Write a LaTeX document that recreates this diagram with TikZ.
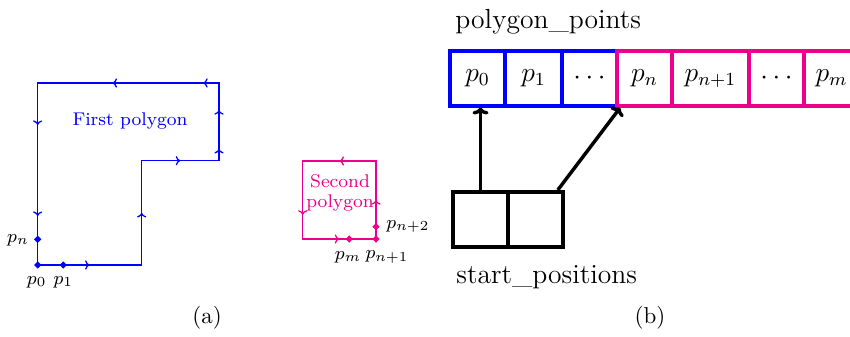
\documentclass[tikz,border=0pt]{standalone}
\usetikzlibrary{arrows.meta,decorations.markings,calc}
\definecolor{polyblue}{RGB}{0,0,255}
\definecolor{polypink}{RGB}{236,0,140}
\begin{document}
\begin{tikzpicture}[x=0.4348pt,y=-0.4348pt,
  edge/.style={line width=0.55pt},
  midarrow/.style={postaction={decorate,decoration={markings,
      mark=at position #1 with {\arrow{To[length=2pt,width=4pt]}}}}},
  bdot/.style={circle,inner sep=0pt,minimum size=1.5pt,fill=black,draw=polyblue,line width=1.2pt},
  pdot/.style={circle,inner sep=0pt,minimum size=1.5pt,fill=black,draw=polypink,line width=1.2pt},
  lbl/.style={font=\footnotesize,inner sep=0pt},
  cell/.style={draw,line width=1.6pt,minimum height=23.91pt,inner sep=0pt,font=\large},
  bcell/.style={cell,draw=polyblue},
  pcell/.style={cell,draw=polypink},
  scell/.style={cell,draw=black,minimum width=23.91pt},
  ptr/.style={line width=1.5pt,-{To[length=3pt,width=7pt]}},
  caption/.style={anchor=base,inner sep=0pt}]
\useasboundingbox (0,0) rectangle (850,336);
\clip (0,0) rectangle (850,336);

% ---------- (a) first polygon ----------
\coordinate (A) at (37.7,265);
\coordinate (B) at (141.7,265);
\coordinate (C) at (141.7,160.7);
\coordinate (D) at (219,160.7);
\coordinate (E) at (219,137);
\coordinate (F) at (219,83);
\coordinate (G) at (187,83);
\coordinate (H) at (37.7,83);
\coordinate (I) at (37.7,167);
\draw[polyblue,edge] (A) -- (B) -- (C) -- (D) -- (F) -- (H) -- cycle;
\foreach \u/\v in {A/B,B/C,C/D,D/E,E/F,F/G,G/H,H/I,I/A}
  \path[polyblue,edge,midarrow=0.5] (\u) -- (\v);
\node[polyblue,font=\footnotesize] (fp) at (130,121) {First polygon};
\node[bdot] (p0) at (A) {};
\node[bdot] (p1) at (63.3,265) {};
\node[bdot] (pn) at (37.7,239.3) {};
\node[lbl] (lp0) at (36.7,282) {$p_0$};
\node[lbl] (lp1) at (63.3,282) {$p_1$};
\node[lbl] (lpn) at (18,240) {$p_n$};

% ---------- (a) second polygon ----------
\coordinate (S) at (302.7,239);
\coordinate (R) at (376,239);
\coordinate (Q) at (376,161);
\coordinate (P) at (302.7,161);
\draw[polypink,edge] (S) -- (R) -- (Q) -- (P) -- cycle;
\path[polypink,edge,midarrow=0.5] (S) -- (R);
\path[polypink,edge,midarrow=0.5] (R) -- (Q);
\path[polypink,edge,midarrow=0.5] (Q) -- (P);
\path[polypink,edge,midarrow=0.69] (P) -- (S);
\node[polypink,font=\footnotesize,align=center,inner sep=0pt] (sp) at (340,193) {Second\\[-1pt]polygon};
\node[pdot] (pm) at (349.3,239) {};
\node[pdot] (pn1) at (R) {};
\node[pdot] (pn2) at (376,226.7) {};
\node[lbl] (lpm) at (348,257) {$p_m$};
\node[lbl] (lpn1) at (387,257) {$p_{n+1}$};
\node[lbl,anchor=west] (lpn2) at (386,226.7) {$p_{n+2}$};

\node[caption] (capa) at (207,323.3) {(a)};

% ---------- (b) arrays ----------
\node[anchor=base west,inner sep=0pt,font=\large] (pp) at (455,28.5) {polygon\_points};
\node[bcell,minimum width=23.91pt] (c0) at (477.5,78.3) {$p_0$};
\node[bcell,minimum width=24.78pt] (c1) at (533.5,78.3) {$p_1$};
\node[bcell,minimum width=23.91pt] (c2) at (589.5,78.3) {$\cdots$};
\node[pcell,minimum width=23.91pt] (c3) at (644.5,78.3) {$p_n$};
\node[pcell,minimum width=33.48pt] (c4) at (710.5,78.3) {$p_{n+1}$};
\node[pcell,minimum width=23.91pt] (c5) at (776.5,78.3) {$\cdots$};
\node[pcell,minimum width=23.91pt] (c6) at (831.5,78.3) {$p_m$};

\node[scell] (s0) at (480.5,219.3) {};
\node[scell] (s1) at (535.5,219.3) {};
\node[anchor=base west,inner sep=0pt,font=\large] (sp2) at (456,283.3) {start\_positions};

\draw[ptr] (s0.north) -- (s0.north |- c0.south);
\coordinate (a2s) at ($(s1.north east)+(-7,0)$);
\coordinate (a2e) at ($(c3.south west)+(5,0)$);
\draw[ptr] (a2s) -- (a2e);

\node[caption] (capb) at (650,323.3) {(b)};
\end{tikzpicture}
\end{document}
